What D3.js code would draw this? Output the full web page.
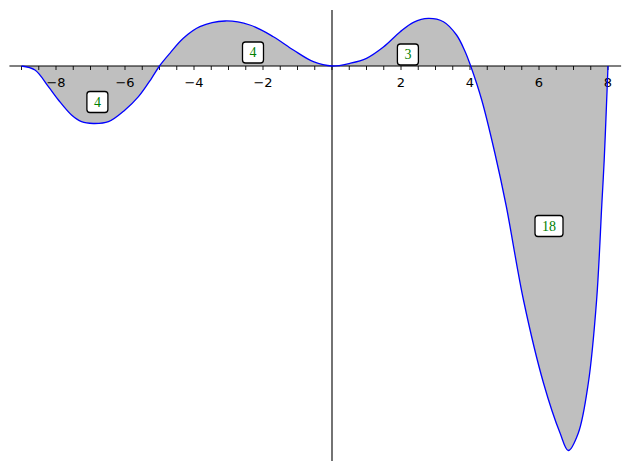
<!DOCTYPE html>
<html>
<head>
<meta charset="utf-8">
<script src="https://cdn.jsdelivr.net/npm/d3@7"></script>
<style>
  html, body { margin: 0; padding: 0; background: #fff; }
  svg { display: block; }
</style>
</head>
<body>
<svg id="chart" width="630" height="470"></svg>
<script>
// ---- data ----
const curveX = [-9, -8.61, -8.22, -7.93, -7.55, -7.26, -6.92, -6.48, -6.0, -5.61, -5.23, -5.0,
  -4.70, -4.31, -3.83, -3.10, -2.38, -1.70, -1.12, -0.54, 0,
  0.52, 1.0, 1.49, 1.97, 2.36, 2.79, 3.23, 3.61, 3.86, 4.02,
  4.34, 4.72, 5.05, 5.55, 6.13, 6.61, 6.85, 7.14, 7.43, 7.67, 7.82, 7.89, 7.955, 8.0];
const curveY = [0, -0.40, -2.07, -3.40, -4.90, -5.57, -5.75, -5.57, -4.40, -3.07, -1.23, 0,
  1.27, 2.77, 3.93, 4.50, 4.10, 2.93, 1.60, 0.43, 0,
  0.27, 0.77, 1.90, 3.40, 4.37, 4.77, 4.43, 3.10, 1.43, 0,
  -3.40, -8.70, -14.0, -23.4, -31.7, -36.7, -38.45, -36.7, -31.7, -23.4, -13.9, -9.4, -4.0, 0];

const labelText = ["4", "4", "3", "18"];
const labelX = [-6.8, -2.29, 2.2, 6.29];
const labelY = [-3.6, 1.35, 1.15, -16.0];

const majorTicks = [-8, -6, -4, -2, 2, 4, 6, 8];
const minorTicks = d3.range(-9, 8.001, 0.5);

// ---- scales ----
const svg = d3.select("#chart");
const x = d3.scaleLinear().domain([-9, 8]).range([21.5, 608]);
const y = d3.scaleLinear().domain([-39.5, 5.6]).range([461, 10]);

const pts = curveX.map((d, i) => [d, curveY[i]]);
const curveType = d3.curveCatmullRom.alpha(0.5);

// filled area between curve and y = 0
const area = d3.area()
  .x(d => x(d[0]))
  .y0(y(0))
  .y1(d => y(d[1]))
  .curve(curveType);
svg.append("path")
  .datum(pts)
  .attr("d", area)
  .attr("fill", "#bfbfbf")
  .attr("stroke", "none");

// axes
const xAxisG = svg.append("g").attr("transform", `translate(0,${y(0)})`);
xAxisG.append("line")
  .attr("x1", x(-9.35)).attr("x2", x(8.38))
  .attr("y1", 0).attr("y2", 0)
  .attr("stroke", "#000").attr("stroke-width", 1.1);
xAxisG.selectAll("line.tick")
  .data(minorTicks)
  .enter().append("line")
  .attr("class", "tick")
  .attr("x1", d => x(d)).attr("x2", d => x(d))
  .attr("y1", 0).attr("y2", 4)
  .attr("stroke", "#000").attr("stroke-width", 0.9);
xAxisG.selectAll("text")
  .data(majorTicks)
  .enter().append("text")
  .attr("x", d => x(d))
  .attr("y", 21)
  .attr("text-anchor", "middle")
  .attr("font-family", "DejaVu Sans, sans-serif")
  .attr("font-size", 13)
  .attr("fill", "#000")
  .text(d => d < 0 ? "\u2212" + Math.abs(d) : String(d));

svg.append("line")
  .attr("x1", x(0)).attr("x2", x(0))
  .attr("y1", y(5.6)).attr("y2", y(-39.5))
  .attr("stroke", "#000").attr("stroke-width", 1.1);

// curve
const line = d3.line()
  .x(d => x(d[0]))
  .y(d => y(d[1]))
  .curve(curveType);
svg.append("path")
  .datum(pts)
  .attr("d", line)
  .attr("fill", "none")
  .attr("stroke", "#0000ff")
  .attr("stroke-width", 1.3);

// labels
const lab = svg.selectAll("g.lab")
  .data(labelText.map((t, i) => ({ t, x: labelX[i], y: labelY[i] })))
  .enter().append("g")
  .attr("class", "lab")
  .attr("transform", d => `translate(${x(d.x)},${y(d.y)})`);
lab.append("rect")
  .attr("x", d => -(d.t.length > 1 ? 14 : 10.5))
  .attr("y", -10.5)
  .attr("width", d => d.t.length > 1 ? 28 : 21)
  .attr("height", 21)
  .attr("rx", 3).attr("ry", 3)
  .attr("fill", "#fff")
  .attr("stroke", "#000")
  .attr("stroke-width", 1.3);
lab.append("text")
  .attr("x", 0)
  .attr("y", 4.5)
  .attr("text-anchor", "middle")
  .attr("font-family", "Liberation Serif, serif")
  .attr("font-size", 14)
  .attr("fill", "#008000")
  .text(d => d.t);
</script>
</body>
</html>
